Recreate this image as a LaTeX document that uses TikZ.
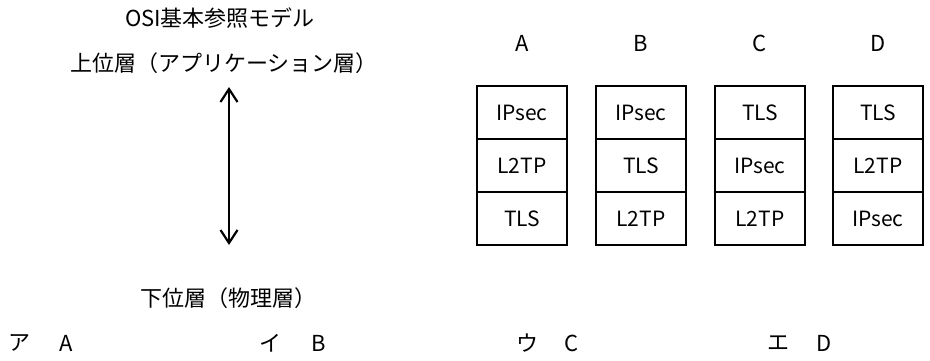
\documentclass[tikz,border=0pt]{standalone}
\usepackage{fontspec}
\setmainfont{Noto Sans CJK JP}
\usetikzlibrary{arrows.meta}
\begin{document}
\begin{tikzpicture}[x=1pt,y=-1pt,
  txt/.style={font=\fontsize{22}{26}\selectfont, inner sep=0pt},
  cell/.style={draw, line width=2.4pt, minimum width=90pt, minimum height=53pt, inner sep=0pt, font=\fontsize{21}{25}\selectfont},
  dbl/.style={{Straight Barb[length=13pt,width=17pt,line width=2.2pt]}-{Straight Barb[length=13pt,width=17pt,line width=2.2pt]}, line width=2.2pt}]
\useasboundingbox (0,0) rectangle (930,361);
% left part
\node[txt] (title) at (220,18) {OSI基本参照モデル};
\node[txt] (upper) at (224,63) {上位層（アプリケーション層）};
\node[txt] (lower) at (228,298) {下位層（物理層）};
\coordinate (atop) at (229,87);
\coordinate (abot) at (229,245);
\draw[dbl] (atop) -- (abot);
% stacks
\foreach \n/\x/\a/\b/\c in {A/522/IPsec/L2TP/TLS, B/641/IPsec/TLS/L2TP, C/760/TLS/IPsec/L2TP, D/878/TLS/L2TP/IPsec}{
  \node[txt] (lab\n) at (\x,43) {\n};
  \node[cell] (\n1) at (\x,112.5) {\a};
  \node[cell] (\n2) at (\x,165.5) {\b};
  \node[cell] (\n3) at (\x,218.5) {\c};
}
% answers
\foreach \k/\kx/\l/\lx in {ア/20/A/66.5, イ/270/B/319, ウ/527/C/571.5, エ/778/D/824}{
  \node[txt] (kana\l) at (\kx,343) {\k};
  \node[txt] (ans\l) at (\lx,343) {\l};
}
\end{tikzpicture}
\end{document}
